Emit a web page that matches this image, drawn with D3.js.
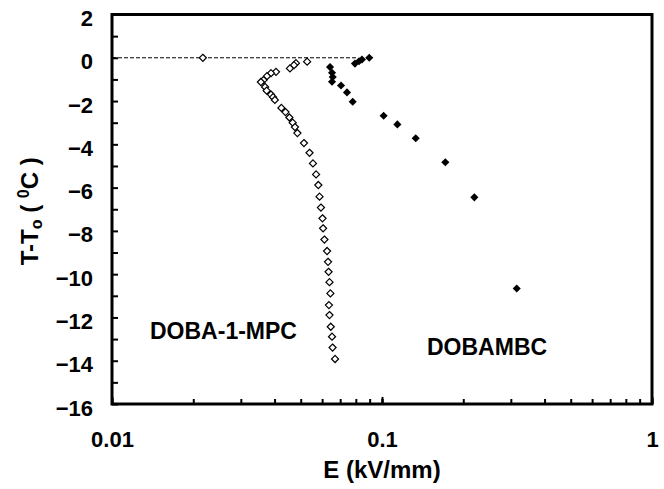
<!DOCTYPE html>
<html>
<head>
<meta charset="utf-8">
<script src="https://cdn.jsdelivr.net/npm/d3@7"></script>
<style>
  body { margin: 0; background: #fff; }
  text { font-family: "Liberation Sans", Arial, sans-serif; font-weight: bold; fill: #000; }
</style>
</head>
<body>
<div id="chart"></div>
<script>
// DOBA-1-MPC (open diamonds): E in kV/mm, dT in degC
var mpcE = [0.0217, 0.0528, 0.048, 0.0472, 0.0456, 0.0405, 0.0388, 0.0375, 0.0364, 0.0356,
            0.0369, 0.0374, 0.0388, 0.0395, 0.0401, 0.0424, 0.0439, 0.0454, 0.0467, 0.0476,
            0.0486, 0.0514, 0.0539, 0.0555, 0.057, 0.0581, 0.0587, 0.0594, 0.0602, 0.0605,
            0.0612, 0.0626, 0.0631, 0.0634, 0.0639, 0.0644, 0.0636, 0.0639, 0.0646, 0.0653,
            0.0656, 0.067];
var mpcT = [0, -0.18, -0.25, -0.34, -0.49, -0.65, -0.71, -0.85, -1.03, -1.12,
            -1.35, -1.52, -1.70, -1.82, -1.95, -2.32, -2.51, -2.76, -3.0, -3.2,
            -3.48, -3.94, -4.39, -4.88, -5.39, -5.88, -6.42, -6.92, -7.42, -7.88,
            -8.40, -8.93, -9.43, -9.89, -10.37, -10.89, -11.43, -11.89, -12.43, -12.89,
            -13.39, -13.92];

// DOBAMBC (filled diamonds)
var mbcE = [0.0897, 0.0843, 0.0822, 0.0794, 0.0642, 0.0653, 0.0657, 0.0653, 0.0705, 0.0742,
            0.0779, 0.1014, 0.114, 0.1333, 0.1716, 0.2198, 0.3155];
var mbcT = [0, -0.08, -0.16, -0.27, -0.43, -0.69, -0.89, -1.11, -1.28, -1.6,
            -2.03, -2.68, -3.08, -3.72, -4.83, -6.45, -10.66];

var xTicks = [0.01, 0.1, 1];
var yTicks = [2, 0, -2, -4, -6, -8, -10, -12, -14, -16];
var refLine = [0.01, 0.0815];   // dashed T = T0 line

var margin = {top: 14.5, right: 12, bottom: 85, left: 112},
    width = 664 - margin.left - margin.right,
    height = 489 - margin.top - margin.bottom;

var x = d3.scaleLog().domain([0.01, 1]).range([0, width]);
var y = d3.scaleLinear().domain([-16, 2]).range([height, 0]);

var svg = d3.select("#chart").append("svg")
    .attr("width", 664)
    .attr("height", 489)
  .append("g")
    .attr("transform", "translate(" + margin.left + "," + margin.top + ")");

// minor ticks on x (1..9 per decade), pointing inward
var xMinor = [];
[0.01, 0.1].forEach(function(d) {
    for (var k = 1; k <= 10; k++) xMinor.push(d * k);
});
svg.append("g")
    .attr("transform", "translate(0," + height + ")")
    .call(d3.axisBottom(x).tickValues(xMinor).tickSize(-5).tickFormat(""))
    .call(function(g) { g.select(".domain").remove(); })
    .selectAll("line").attr("stroke-width", 2);

svg.append("g")
    .attr("transform", "translate(0," + height + ")")
    .call(d3.axisBottom(x).tickValues(xTicks).tickSize(-7).tickPadding(27)
        .tickFormat(function(d) { return d3.format("~g")(d); }))
    .call(function(g) { g.select(".domain").remove(); })
    .call(function(g) {
        g.selectAll("line").attr("stroke-width", 2);
        g.selectAll("text").attr("font-size", 22);
    });

// y ticks every 1, labels every 2
svg.append("g")
    .call(d3.axisLeft(y).tickValues(d3.range(-16, 3, 1)).tickSize(-6).tickFormat(""))
    .call(function(g) { g.select(".domain").remove(); })
    .selectAll("line").attr("stroke-width", 2);

svg.append("g")
    .call(d3.axisLeft(y).tickValues(yTicks).tickSize(0).tickPadding(19))
    .call(function(g) { g.select(".domain").remove(); })
    .selectAll("text")
    .attr("font-size", 22)
    .attr("dy", "0.5em");

// frame
svg.append("rect")
    .attr("width", width)
    .attr("height", height)
    .attr("fill", "none")
    .attr("stroke", "#000")
    .attr("stroke-width", 3);

// dashed line at T = T0
svg.append("line")
    .attr("x1", x(refLine[0]))
    .attr("x2", x(refLine[1]))
    .attr("y1", y(0))
    .attr("y2", y(0))
    .attr("stroke", "#000")
    .attr("stroke-width", 1)
    .attr("stroke-dasharray", "4,2");

svg.append("g")
    .selectAll("path")
    .data(mpcE)
    .enter()
    .append("path")
    .attr("d", d3.symbol().type(d3.symbolDiamond2).size(32))
    .attr("transform", function(d, i) { return "translate(" + x(d) + "," + y(mpcT[i]) + ")"; })
    .attr("fill", "#fff")
    .attr("stroke", "#000")
    .attr("stroke-width", 1.2);

svg.append("g")
    .selectAll("path")
    .data(mbcE)
    .enter()
    .append("path")
    .attr("d", d3.symbol().type(d3.symbolDiamond2).size(42))
    .attr("transform", function(d, i) { return "translate(" + x(d) + "," + y(mbcT[i]) + ")"; })
    .attr("fill", "#000");

// annotations
svg.append("text")
    .attr("x", 38)
    .attr("y", 324.5)
    .attr("font-size", 23)
    .text("DOBA-1-MPC");

svg.append("text")
    .attr("x", 315)
    .attr("y", 340)
    .attr("font-size", 23)
    .text("DOBAMBC");

// axis titles
svg.append("text")
    .attr("x", width / 2)
    .attr("y", height + 74)
    .attr("text-anchor", "middle")
    .attr("font-size", 24)
    .text("E (kV/mm)");

var yt = svg.append("text")
    .attr("transform", "translate(-74," + (height / 2 + 2) + ") rotate(-90)")
    .attr("text-anchor", "middle")
    .attr("font-size", 24);
yt.append("tspan").text("T-T");
yt.append("tspan").attr("font-size", 16).attr("dy", 4).text("o");
yt.append("tspan").attr("dy", -4).text(" ( ");
yt.append("tspan").attr("font-size", 16).attr("dy", -9).text("0");
yt.append("tspan").attr("dy", 9).text("C )");
</script>
</body>
</html>
